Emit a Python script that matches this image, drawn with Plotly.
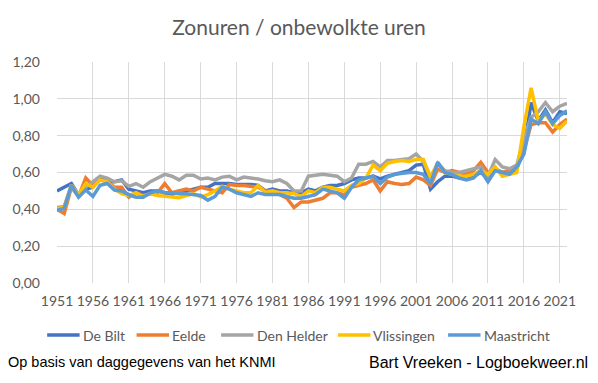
import plotly.graph_objects as go

years = list(range(1951, 2023))

de_bilt = [0.50, 0.52, 0.54, 0.48, 0.51, 0.52, 0.57, 0.55, 0.55, 0.56,
           0.51, 0.50, 0.49, 0.50, 0.50, 0.49, 0.48, 0.50, 0.50, 0.51,
           0.52, 0.52, 0.54, 0.54, 0.54, 0.535, 0.535, 0.535, 0.53, 0.50,
           0.51, 0.50, 0.50, 0.49, 0.49, 0.51, 0.50, 0.52, 0.53, 0.53,
           0.54, 0.56, 0.57, 0.57, 0.58, 0.565, 0.58, 0.59, 0.60, 0.61,
           0.64, 0.645, 0.51, 0.55, 0.58, 0.58, 0.57, 0.57, 0.58, 0.60,
           0.57, 0.62, 0.60, 0.60, 0.62, 0.72, 0.98, 0.88, 0.94, 0.87,
           0.93, 0.92]

eelde = [0.40, 0.377, 0.52, 0.47, 0.57, 0.53, 0.56, 0.55, 0.52, 0.52,
         0.466, 0.49, 0.475, 0.485, 0.49, 0.54, 0.49, 0.50, 0.51, 0.50,
         0.52, 0.51, 0.50, 0.49, 0.535, 0.53, 0.53, 0.525, 0.52, 0.50,
         0.50, 0.48, 0.46, 0.41, 0.44, 0.44, 0.45, 0.46, 0.49, 0.49,
         0.48, 0.52, 0.53, 0.54, 0.56, 0.50, 0.55, 0.54, 0.535, 0.54,
         0.575, 0.56, 0.53, 0.62, 0.60, 0.61, 0.60, 0.59, 0.61, 0.655,
         0.60, 0.61, 0.60, 0.61, 0.63, 0.72, 0.86, 0.87, 0.87, 0.82,
         0.86, 0.89]

den_helder = [0.41, 0.415, 0.53, 0.48, 0.52, 0.55, 0.58, 0.57, 0.55, 0.555,
              0.525, 0.54, 0.52, 0.55, 0.57, 0.59, 0.58, 0.56, 0.585, 0.585,
              0.565, 0.57, 0.56, 0.575, 0.58, 0.56, 0.575, 0.57, 0.565, 0.555,
              0.55, 0.56, 0.54, 0.50, 0.50, 0.58, 0.585, 0.59, 0.585, 0.58,
              0.55, 0.57, 0.645, 0.645, 0.66, 0.63, 0.665, 0.665, 0.67, 0.675,
              0.70, 0.66, 0.57, 0.65, 0.61, 0.60, 0.60, 0.61, 0.62, 0.63,
              0.58, 0.67, 0.63, 0.62, 0.64, 0.78, 0.90, 0.93, 0.98, 0.93,
              0.96, 0.975]

vlissingen = [0.405, 0.41, 0.53, 0.48, 0.54, 0.52, 0.56, 0.55, 0.51, 0.485,
              0.475, 0.49, 0.47, 0.485, 0.475, 0.47, 0.467, 0.463, 0.475, 0.485,
              0.467, 0.48, 0.50, 0.525, 0.51, 0.50, 0.49, 0.49, 0.53, 0.49,
              0.50, 0.49, 0.49, 0.485, 0.47, 0.50, 0.49, 0.52, 0.52, 0.51,
              0.50, 0.53, 0.54, 0.57, 0.64, 0.61, 0.65, 0.66, 0.665, 0.66,
              0.67, 0.67, 0.575, 0.65, 0.60, 0.59, 0.58, 0.58, 0.59, 0.61,
              0.59, 0.63, 0.58, 0.59, 0.60, 0.85, 1.06, 0.88, 0.92, 0.86,
              0.84, 0.88]

maastricht = [0.395, 0.405, 0.53, 0.466, 0.505, 0.47, 0.53, 0.54, 0.505, 0.50,
              0.48, 0.466, 0.466, 0.49, 0.50, 0.49, 0.49, 0.485, 0.485, 0.48,
              0.475, 0.45, 0.47, 0.52, 0.51, 0.49, 0.48, 0.47, 0.49, 0.48,
              0.48, 0.48, 0.47, 0.46, 0.46, 0.47, 0.48, 0.51, 0.50, 0.49,
              0.46, 0.52, 0.56, 0.57, 0.58, 0.54, 0.575, 0.59, 0.595, 0.60,
              0.60, 0.59, 0.54, 0.655, 0.60, 0.59, 0.57, 0.56, 0.57, 0.61,
              0.55, 0.61, 0.60, 0.59, 0.63, 0.70, 0.89, 0.865, 0.93, 0.865,
              0.91, 0.935]

series_names = ["De Bilt", "Eelde", "Den Helder", "Vlissingen", "Maastricht"]
series_values = [de_bilt, eelde, den_helder, vlissingen, maastricht]
series_colors = ["#4472C4", "#ED7D31", "#A5A5A5", "#FFC000", "#5B9BD5"]

x_ticks = list(range(1951, 2022, 5))
y_ticks = [0, 0.2, 0.4, 0.6, 0.8, 1.0, 1.2]

W, H = 598, 383
L, R, T, B = 48, 31, 62, 100
PW, PH = W - L - R, H - T - B


def px_x(p):
    return (p - L) / PW


def px_y(p):
    return (H - B - p) / PH


fig = go.Figure()
for name, vals, col in zip(series_names, series_values, series_colors):
    fig.add_trace(go.Scatter(x=years, y=vals, name=name, mode="lines",
                             line=dict(color=col, width=3.5), showlegend=False))

# legend drawn as line samples + text (Excel-style layout)
legend_line_starts = [38, 129, 215, 334, 446]
legend_y = 335
shapes = []
annotations = []
for name, col, x0 in zip(series_names, series_colors, legend_line_starts):
    shapes.append(dict(type="line", xref="paper", yref="paper",
                       x0=px_x(x0), x1=px_x(x0 + 33), y0=px_y(legend_y), y1=px_y(legend_y),
                       line=dict(color=col, width=3.5)))
    annotations.append(dict(text=name, xref="paper", yref="paper",
                            x=px_x(x0 + 34), y=px_y(legend_y), xanchor="left", yanchor="middle",
                            showarrow=False, font=dict(size=14, color="#595959")))

annotations.append(dict(text="Op basis van daggegevens van het KNMI", xref="paper", yref="paper",
                        x=px_x(-4), y=px_y(362), xanchor="left", yanchor="middle",
                        showarrow=False,
                        font=dict(family="Liberation Sans, Arial", size=14.5, color="black")))
annotations.append(dict(text="Bart Vreeken - Logboekweer.nl", xref="paper", yref="paper",
                        x=px_x(590), y=px_y(362), xanchor="right", yanchor="middle",
                        showarrow=False,
                        font=dict(family="Liberation Sans, Arial", size=16, color="black")))

fig.update_layout(
    width=W, height=H,
    margin=dict(l=L, r=R, t=T, b=B),
    paper_bgcolor="white", plot_bgcolor="white",
    separators=",.",
    font=dict(family="Lato, sans-serif", color="#595959", size=14),
    title=dict(text="Zonuren / onbewolkte uren", x=0.5, xanchor="center",
               y=1 - 28 / H, yanchor="middle",
               font=dict(size=21, color="#595959", family="Lato, sans-serif")),
    showlegend=False,
    xaxis=dict(range=[1951, 2022], tickvals=x_ticks, ticktext=[str(v) for v in x_ticks],
               showgrid=True, gridcolor="#D9D9D9", gridwidth=1, zeroline=False,
               showline=False, ticks="", tickfont=dict(size=14, color="#595959"),
               ticklabelstandoff=8, fixedrange=True),
    yaxis=dict(range=[0, 1.2], tickvals=y_ticks, tickformat=".2f",
               showgrid=True, gridcolor="#D9D9D9", gridwidth=1, zeroline=False,
               showline=False, ticks="", tickfont=dict(size=14, color="#595959"),
               ticklabelstandoff=16, fixedrange=True),
    shapes=shapes,
    annotations=annotations,
)

fig.write_html("out.html", config={"displayModeBar": False},
               post_script="document.body.style.margin='0';")
